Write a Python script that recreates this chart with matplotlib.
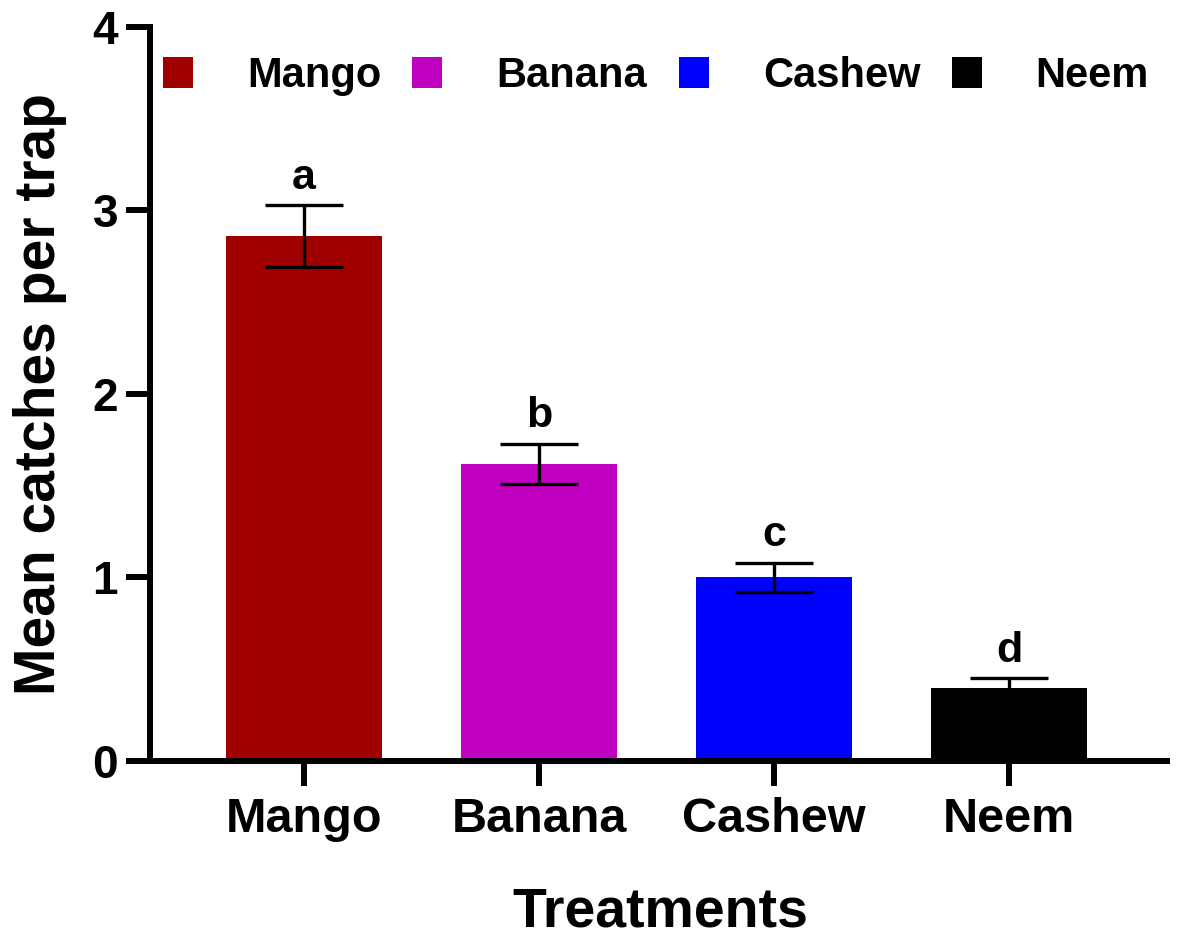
import matplotlib
matplotlib.use("Agg")
import matplotlib.pyplot as plt
from matplotlib.patches import Patch

plt.rcParams["font.family"] = ["Liberation Sans", "DejaVu Sans"]
plt.rcParams["font.weight"] = "bold"

treatments = ["Mango", "Banana", "Cashew", "Neem"]
means      = [2.86, 1.62, 1.00, 0.40]
sems       = [0.17, 0.11, 0.08, 0.05]
letters    = ["a", "b", "c", "d"]
colours    = ["#A00000", "#C000C0", "#0000FF", "#000000"]

fig = plt.figure(figsize=(11.87, 9.43), dpi=100)
ax = fig.add_axes([0.1264, 0.193, 0.8593, 0.7784])

x = list(range(len(treatments)))
ax.bar(x, means, width=0.664, color=colours, edgecolor="none", zorder=2)
ax.errorbar(x, means, yerr=sems, fmt="none", ecolor="black",
            elinewidth=2.4, capsize=28, capthick=2.4, zorder=3)

for xi, m, s, lt in zip(x, means, sems, letters):
    ax.text(xi, m + s + 0.04, lt, ha="center", va="bottom",
            fontsize=31, fontweight="bold")

ax.set_xlim(-0.655, 3.685)
ax.set_ylim(0, 4)
ax.set_yticks([0, 1, 2, 3, 4])
ax.set_xticks(x)
ax.set_xticklabels(treatments)

for side in ["top", "right"]:
    ax.spines[side].set_visible(False)
for side in ["left", "bottom"]:
    ax.spines[side].set_linewidth(4.3)
ax.spines["bottom"].set_capstyle("butt")

ax.tick_params(axis="x", length=18, width=4.3, labelsize=35, pad=8)
ax.tick_params(axis="y", length=17, width=4.3, labelsize=33, pad=6)

ax.set_ylabel("Mean catches per trap", fontsize=41, fontweight="bold", labelpad=18)
ax.set_xlabel("Treatments", fontsize=40, fontweight="bold", labelpad=32)

handles = [Patch(facecolor=c, edgecolor="none", label=t)
           for c, t in zip(colours, treatments)]
ax.legend(handles=handles, ncol=4, loc="upper left",
          bbox_to_anchor=(-0.012, 0.995), frameon=False, fontsize=30,
          handlelength=0.72, handleheight=0.76, handletextpad=1.3,
          columnspacing=0.75, borderaxespad=0.3, borderpad=0.3)

fig.savefig("out.png", dpi=100)
